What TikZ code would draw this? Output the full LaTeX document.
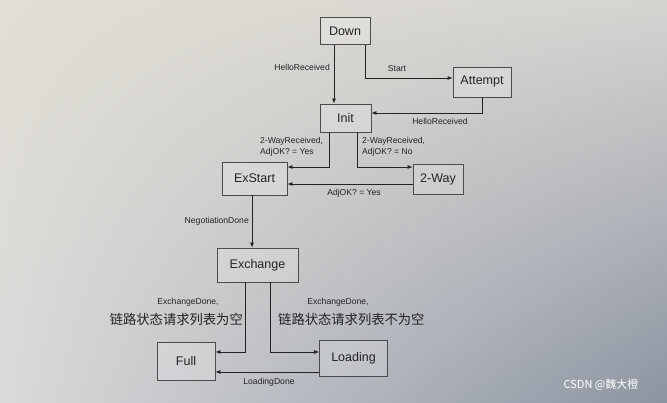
\documentclass[tikz,border=0pt]{standalone}
\usepackage{fontspec}
\setmainfont{Liberation Sans}
\newfontfamily\cjk{Noto Sans CJK SC}
\usetikzlibrary{arrows.meta,shadings}
\definecolor{ink}{RGB}{35,35,38}
\definecolor{boxline}{RGB}{75,75,78}
\definecolor{pageUL}{RGB}{226,222,213}
\definecolor{pageUR}{RGB}{214,212,209}
\definecolor{pageLL}{RGB}{218,218,218}
\definecolor{pageLR}{RGB}{140,148,162}
\tikzset{
  state/.style={draw=boxline, line width=0.8pt, fill=white, fill opacity=0.18, text opacity=1,
    text=ink, font=\fontsize{12.5}{14}\selectfont, inner sep=0pt},
  arr/.style={draw=ink, line width=0.8pt, -{Latex[length=5pt,width=4pt]}},
  lab/.style={text=ink, font=\fontsize{8.6}{10.6}\selectfont, inner sep=1pt},
  cnlab/.style={text=ink, font=\cjk\fontsize{13.3}{15}\selectfont, inner sep=0pt},
}
\begin{document}
\begin{tikzpicture}[x=1pt,y=-1pt]
\useasboundingbox (0,0) rectangle (667,403);
\shade[upper left=pageUL, upper right=pageUR, lower left=pageLL, lower right=pageLR] (0,0) rectangle (667,403);

% states
\node[state, minimum width=50pt, minimum height=27pt] (down) at (345,31) {Down};
\node[state, minimum width=58pt, minimum height=30pt] (attempt) at (482,82) {Attempt};
\node[state, minimum width=51pt, minimum height=28pt] (init) at (345.5,118) {Init};
\node[state, minimum width=65pt, minimum height=33pt] (exstart) at (254.5,178.5) {ExStart};
\node[state, minimum width=50pt, minimum height=30pt] (twoway) at (438,179) {2-Way};
\node[state, minimum width=81pt, minimum height=34pt] (exchange) at (257.5,265) {Exchange};
\node[state, minimum width=58pt, minimum height=38pt] (full) at (186,361) {Full};
\node[state, minimum width=68pt, minimum height=36pt] (loading) at (353.5,358.5) {Loading};

% connectors
\draw[arr] ([xshift=-11pt]down.south) -- ([xshift=-11pt]down.south |- init.north);
\draw[arr] ([xshift=20pt]down.south) |- ([yshift=4pt]attempt.west);
\draw[arr] (attempt.south) |- ([yshift=5pt]init.east);
\draw[arr] ([xshift=-16pt]init.south) |- ([yshift=11.5pt]exstart.east);
\draw[arr] ([xshift=12pt]init.south) |- ([yshift=12pt]twoway.west);
\draw[arr] ([yshift=-5pt]twoway.west) -- ([yshift=-5pt]twoway.west -| exstart.east);
\draw[arr] ([xshift=-2.5pt]exstart.south) -- ([xshift=-2.5pt]exstart.south |- exchange.north);
\draw[arr] ([xshift=-12.5pt]exchange.south) |- ([yshift=9pt]full.east);
\draw[arr] ([xshift=12.5pt]exchange.south) |- ([yshift=6.5pt]loading.west);
\draw[arr] ([yshift=-13.5pt]loading.west) -- ([yshift=-13.5pt]loading.west -| full.east);

% labels
\node[lab, anchor=east] (l1) at (331,67) {HelloReceived};
\node[lab] (l2) at (397,69) {Start};
\node[lab] (l3) at (440,121) {HelloReceived};
\node[lab, anchor=west, align=left] (l4) at (259,146.5) {2-WayReceived,\\AdjOK? = Yes};
\node[lab, anchor=west, align=left] (l5) at (361,146.5) {2-WayReceived,\\AdjOK? = No};
\node[lab] (l6) at (354,193) {AdjOK? = Yes};
\node[lab, anchor=east] (l7) at (250,221) {NegotiationDone};
\node[lab] (l8) at (188,302) {ExchangeDone,};
\node[cnlab, anchor=east] (l8c) at (243,319) {链路状态请求列表为空};
\node[lab] (l9) at (338,302) {ExchangeDone,};
\node[cnlab, anchor=west] (l9c) at (278,319) {链路状态请求列表不为空};
\node[lab] (l10) at (269,382) {LoadingDone};

% watermark
\node[text=white, font=\cjk\fontsize{11}{13}\selectfont, inner sep=0pt] (wm) at (601,385) {CSDN @魏大橙};
\end{tikzpicture}
\end{document}
